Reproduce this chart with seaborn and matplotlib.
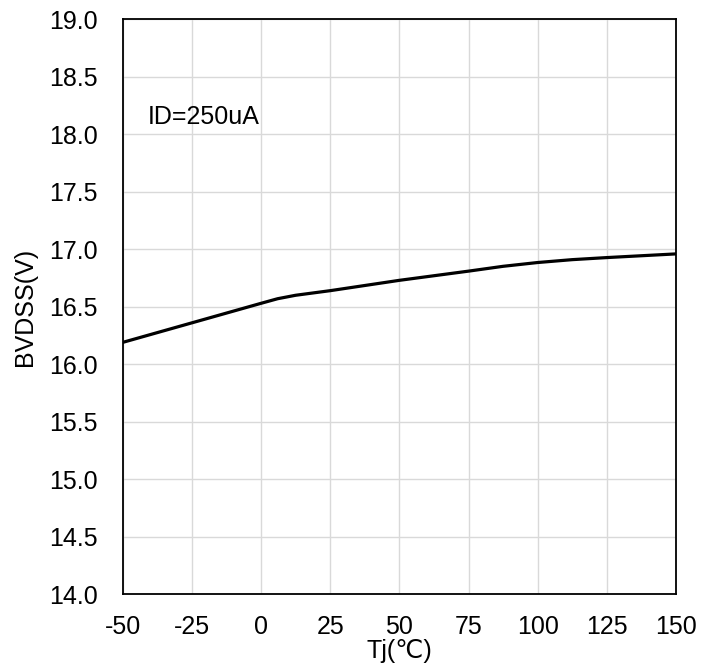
import matplotlib
matplotlib.use("Agg")
import matplotlib.pyplot as plt
import seaborn as sns
import pandas as pd

# values
tj = [-50, -25, 0, 6, 12.5, 25, 50, 75, 87.5, 100, 112.5, 125, 150]
bvdss = [16.19, 16.36, 16.53, 16.57, 16.60, 16.64, 16.73, 16.81, 16.852, 16.885, 16.91, 16.928, 16.96]
x_ticks = [-50, -25, 0, 25, 50, 75, 100, 125, 150]
y_ticks = [14.0, 14.5, 15.0, 15.5, 16.0, 16.5, 17.0, 17.5, 18.0, 18.5, 19.0]

df = pd.DataFrame({"Tj": tj, "BVDSS": bvdss})

sns.set_style("white")
plt.rcParams["font.family"] = ["Liberation Sans", "DejaVu Sans"]
plt.rcParams["text.color"] = "black"
plt.rcParams["xtick.color"] = "black"
plt.rcParams["ytick.color"] = "black"
plt.rcParams["axes.labelcolor"] = "black"

fig = plt.figure(figsize=(7.16, 6.70), dpi=100)
ax = fig.add_axes([0.1714, 0.1134, 0.7727, 0.8575])

sns.lineplot(data=df, x="Tj", y="BVDSS", color="black", linewidth=2.3, ax=ax)

ax.set_xlim(-50, 150)
ax.set_ylim(14, 19)
ax.set_xticks(x_ticks)
ax.set_yticks(y_ticks)
ax.set_xticklabels([str(v) for v in x_ticks])
ax.set_yticklabels([f"{v:.1f}" for v in y_ticks])
ax.tick_params(axis="x", length=0, pad=15, labelsize=18, labelcolor="black")
ax.tick_params(axis="y", length=0, pad=18, labelsize=18, labelcolor="black")
ax.grid(True, color="#d9d9d9", linewidth=1.0)
ax.set_axisbelow(True)
for s in ax.spines.values():
    s.set_color("black")
    s.set_linewidth(1.3)

ax.set_xlabel("Tj(℃)", fontsize=18, color="black")
ax.set_ylabel("BVDSS(V)", fontsize=18, color="black")
ax.xaxis.set_label_coords(0.5, -0.078)
ax.yaxis.set_label_coords(-0.155, 0.5)

ax.text(-41, 18.15, "ID=250uA", fontsize=18, va="center", ha="left", color="black")

fig.savefig("out.png", dpi=100)
